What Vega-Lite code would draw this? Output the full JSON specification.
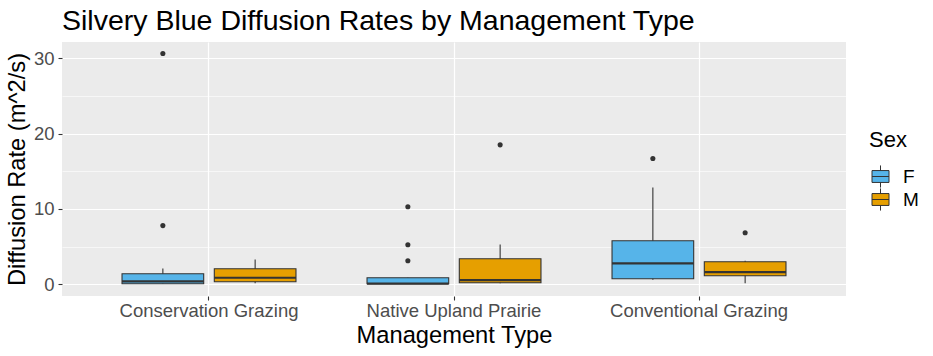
{
  "$schema": "https://vega.github.io/schema/vega-lite/v6.json",
  "width": 784,
  "height": 254,
  "autosize": {"type": "none"},
  "padding": {"left": 62, "top": 42, "right": 87, "bottom": 60},
  "background": "white",
  "config": {
    "font": "Liberation Sans",
    "view": {"fill": "#EBEBEB", "stroke": null},
    "axis": {"domain": false, "labelFont": "Liberation Sans", "titleFont": "Liberation Sans", "titleFontWeight": "normal", "titleColor": "#000000", "labelColor": "#4D4D4D", "tickColor": "#333333", "gridColor": "#FFFFFF"}
  },
  "title": {"text": "Silvery Blue Diffusion Rates by Management Type", "anchor": "start", "frame": "group", "fontSize": 28.5, "fontWeight": "normal", "color": "#000000", "font": "Liberation Sans", "offset": 7},
  "datasets": {
    "summary": [
      {"Management": "Conservation Grazing", "Sex": "F", "lower": 0.05, "q1": 0.09, "median": 0.4, "q3": 1.42, "upper": 2.12},
      {"Management": "Conservation Grazing", "Sex": "M", "lower": 0.17, "q1": 0.35, "median": 0.89, "q3": 2.08, "upper": 3.32},
      {"Management": "Native Upland Prairie", "Sex": "F", "lower": 0.05, "q1": 0.09, "median": 0.12, "q3": 0.89, "upper": 0.89},
      {"Management": "Native Upland Prairie", "Sex": "M", "lower": 0.15, "q1": 0.22, "median": 0.58, "q3": 3.41, "upper": 5.31},
      {"Management": "Conventional Grazing", "Sex": "F", "lower": 0.62, "q1": 0.75, "median": 2.79, "q3": 5.8, "upper": 12.84},
      {"Management": "Conventional Grazing", "Sex": "M", "lower": 0.17, "q1": 1.15, "median": 1.64, "q3": 3.01, "upper": 3.15}
    ],
    "outliers": [
      {"Management": "Conservation Grazing", "Sex": "F", "rate": 7.8},
      {"Management": "Conservation Grazing", "Sex": "F", "rate": 30.6},
      {"Management": "Native Upland Prairie", "Sex": "F", "rate": 3.15},
      {"Management": "Native Upland Prairie", "Sex": "F", "rate": 5.27},
      {"Management": "Native Upland Prairie", "Sex": "F", "rate": 10.3},
      {"Management": "Native Upland Prairie", "Sex": "M", "rate": 18.5},
      {"Management": "Conventional Grazing", "Sex": "F", "rate": 16.7},
      {"Management": "Conventional Grazing", "Sex": "M", "rate": 6.86}
    ]
  },
  "encoding": {
    "x": {
      "field": "Management", "type": "nominal",
      "sort": ["Conservation Grazing", "Native Upland Prairie", "Conventional Grazing"],
      "scale": {"paddingInner": 0.29, "paddingOuter": 0.245},
      "axis": {"title": "Management Type", "titleFontSize": 23.7, "labelFontSize": 18.5, "labelAngle": 0, "grid": true, "gridWidth": 1.2, "bandPosition": 0.5, "tickSize": 4, "tickWidth": 1.1, "labelPadding": 1.5, "titlePadding": 3}
    },
    "xOffset": {"field": "Sex", "type": "nominal", "scale": {"paddingInner": 0.115, "paddingOuter": 0}}
  },
  "layer": [
    {
      "data": {"name": "summary"},
      "mark": {"type": "rule", "color": "#333333", "strokeWidth": 1.1},
      "encoding": {
        "y": {"field": "lower", "type": "quantitative", "scale": {"domain": [-1.53, 32.13], "nice": false, "zero": false},
          "axis": {"title": "Diffusion Rate (m^2/s)", "titleFontSize": 23.7, "labelFontSize": 18.5, "values": [0, 5, 10, 15, 20, 25, 30],
            "labelExpr": "datum.value % 10 === 0 ? datum.label : ''",
            "gridWidth": {"condition": {"test": "datum.value % 10 === 0", "value": 1.2}, "value": 0.6},
            "tickOpacity": {"condition": {"test": "datum.value % 10 === 0", "value": 1}, "value": 0},
            "tickSize": 4, "tickWidth": 1.1, "labelPadding": 4, "titlePadding": 4}},
        "y2": {"field": "upper"}
      }
    },
    {
      "data": {"name": "summary"},
      "mark": {"type": "bar", "stroke": "#333333", "strokeWidth": 1.1},
      "encoding": {
        "y": {"field": "q1", "type": "quantitative"},
        "y2": {"field": "q3"},
        "fill": {"field": "Sex", "type": "nominal", "scale": {"domain": ["F", "M"], "range": ["#56B4E9", "#E69F00"]},
          "legend": {"orient": "none", "legendX": 807, "legendY": 88, "title": "Sex", "titleFontSize": 22, "titleFontWeight": "normal", "titleColor": "#000000", "labelFontSize": 19, "labelColor": "#000000",
            "symbolType": "M-1,-0.7H1V0.7H-1Z M0,-0.7V-1.3 M0,0.7V1.3 M-1,0H1", "symbolSize": 289, "symbolStrokeColor": "#333333", "symbolStrokeWidth": 1, "symbolOffset": 2, "rowPadding": -6, "titlePadding": 15, "labelOffset": 13}}
      }
    },
    {
      "data": {"name": "summary"},
      "mark": {"type": "bar", "stroke": "#333333", "strokeWidth": 2.2, "fill": null},
      "encoding": {
        "y": {"field": "median", "type": "quantitative"},
        "y2": {"field": "median"}
      }
    },
    {
      "data": {"name": "outliers"},
      "mark": {"type": "circle", "color": "#333333", "opacity": 1, "size": 26},
      "encoding": {
        "y": {"field": "rate", "type": "quantitative"}
      }
    }
  ]
}
